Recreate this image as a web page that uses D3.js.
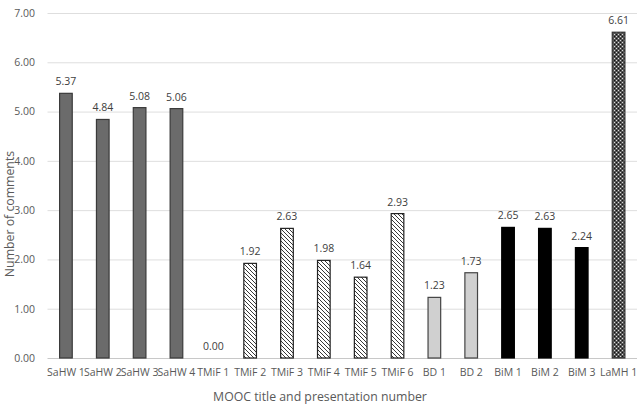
<!DOCTYPE html>
<html><head><meta charset="utf-8">
<script src="https://cdn.jsdelivr.net/npm/d3@7"></script>
<style>body{margin:0;background:#fff}svg{display:block;font-family:"Open Sans",Calibri,sans-serif}</style>
</head><body><svg id="c" width="640" height="414"></svg>
<script>
const categories = ["SaHW 1","SaHW 2","SaHW 3","SaHW 4","TMiF 1","TMiF 2","TMiF 3","TMiF 4","TMiF 5","TMiF 6","BD 1","BD 2","BiM 1","BiM 2","BiM 3","LaMH 1"];
const values = [5.37,4.84,5.08,5.06,0.00,1.92,2.63,1.98,1.64,2.93,1.23,1.73,2.65,2.63,2.24,6.61];
const groups = ["SaHW","SaHW","SaHW","SaHW","TMiF","TMiF","TMiF","TMiF","TMiF","TMiF","BD","BD","BiM","BiM","BiM","LaMH"];
const yTicks = [0,1,2,3,4,5,6,7];
const yTitle = "Number of comments";
const xTitle = "MOOC title and presentation number";

const svg = d3.select("#c");
const W=640,H=414, m={l:47.5,r:3,t:13,b:56};
const defs = svg.append("defs");
const hatch = defs.append("pattern").attr("id","hatch").attr("patternUnits","userSpaceOnUse").attr("width",4).attr("height",4);
hatch.append("rect").attr("width",4).attr("height",4).attr("fill","#fff");
hatch.append("path").attr("d","M-1,-1 L5,5 M-1,3 L1,5 M3,-1 L5,1").attr("stroke","#222").attr("stroke-width",0.9);
const chk = defs.append("pattern").attr("id","chk").attr("patternUnits","userSpaceOnUse").attr("width",4).attr("height",4);
chk.append("rect").attr("width",4).attr("height",4).attr("fill","#555");
chk.append("rect").attr("width",1).attr("height",1).attr("x",0).attr("y",0).attr("fill","#ddd");
chk.append("rect").attr("width",1).attr("height",1).attr("x",2).attr("y",2).attr("fill","#ddd");
chk.append("rect").attr("width",1).attr("height",1).attr("x",2).attr("y",0).attr("fill","#111");
chk.append("rect").attr("width",1).attr("height",1).attr("x",0).attr("y",2).attr("fill","#111");

const fills = {SaHW:"#6b6b6b",TMiF:"url(#hatch)",BD:"#d0d0d0",BiM:"#000",LaMH:"url(#chk)"};
const strokes = {SaHW:"#3a3a3a",TMiF:"#222",BD:"#444",BiM:"#000",LaMH:"#333"};

const x = d3.scaleBand().domain(categories).range([m.l,W-m.r]).paddingInner(0.63).paddingOuter(0.315);
const y = d3.scaleLinear().domain([0,7]).range([H-m.b,m.t]);

svg.append("g").selectAll("line").data(yTicks).join("line")
 .attr("x1",m.l).attr("x2",W-m.r).attr("y1",d=>y(d)+0.5).attr("y2",d=>y(d)+0.5)
 .attr("stroke",d=>d===0?"#c8c8c8":"#dedede").attr("stroke-width",1);

const ya = d3.axisLeft(y).tickValues(yTicks).tickFormat(d3.format(".2f")).tickSize(0).tickPadding(12.5);
svg.append("g").attr("transform",`translate(${m.l},0)`).call(ya)
 .call(g=>g.select(".domain").remove())
 .call(g=>g.selectAll("text").attr("fill","#595959").attr("font-size",10.5).attr("font-family","'Open Sans',sans-serif"));

const xa = d3.axisBottom(x).tickSize(0).tickPadding(11);
svg.append("g").attr("transform",`translate(0,${H-m.b})`).call(xa)
 .call(g=>g.select(".domain").remove())
 .call(g=>g.selectAll("text").attr("fill","#595959").attr("font-size",10.5).attr("font-family","'Open Sans',sans-serif"));

svg.append("g").selectAll("rect").data(categories).join("rect")
 .attr("x",d=>x(d)+0.5).attr("width",x.bandwidth()-1)
 .attr("y",(d,i)=>y(values[i])).attr("height",(d,i)=>y(0)-y(values[i]))
 .attr("fill",(d,i)=>fills[groups[i]]).attr("stroke",(d,i)=>strokes[groups[i]]).attr("stroke-width",1.2);

svg.append("g").selectAll("text").data(categories).join("text")
 .attr("x",d=>x(d)+x.bandwidth()/2).attr("y",(d,i)=>y(values[i])-8)
 .attr("text-anchor","middle").attr("fill","#404040").attr("font-size",10.5)
 .text((d,i)=>d3.format(".2f")(values[i]));

svg.append("text").attr("transform",`translate(14,214) rotate(-90)`)
 .attr("text-anchor","middle").attr("fill","#595959").attr("font-size",12.3).text(yTitle);
svg.append("text").attr("x",320).attr("y",401).attr("text-anchor","middle")
 .attr("fill","#595959").attr("font-size",12.3).text(xTitle);
</script></body></html>
